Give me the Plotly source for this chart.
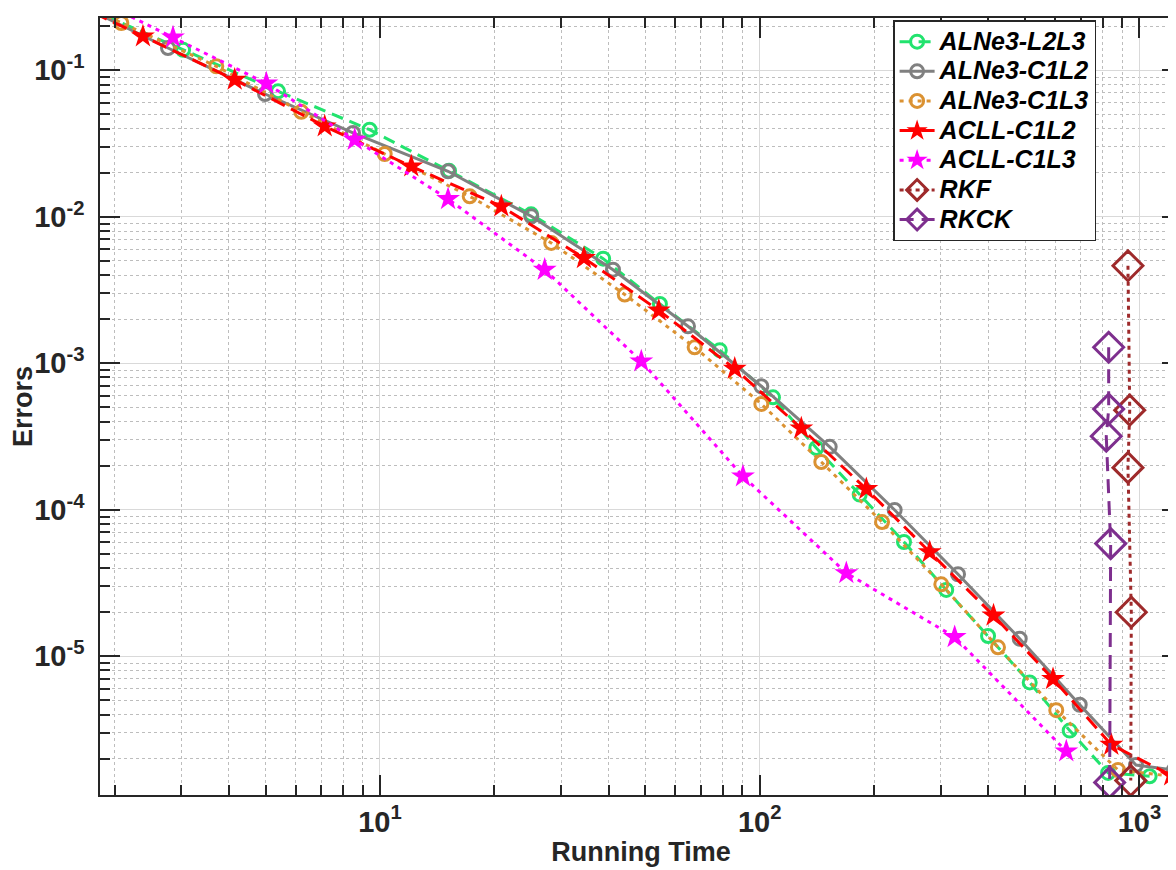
import plotly.graph_objects as go

# ---------------- data ----------------
l2l3_time = [1.70, 3.03, 5.39, 9.39, 15.2, 25.0, 38.7, 54.6, 78.5, 108.4, 141.0, 183.4,
             239.9, 309.9, 399.4, 514.2, 655.3, 827.0, 1064.0]
l2l3_err = [0.266, 0.138, 0.0719, 0.0393, 0.0206, 0.0104, 0.00518, 0.00254, 1.23e-3,
            5.86e-4, 2.64e-4, 1.27e-4, 6.03e-5, 2.84e-5, 1.376e-5, 6.63e-6, 3.11e-6,
            1.60e-6, 1.517e-6]

c1l2_time = [1.60, 2.765, 4.98, 8.49, 15.11, 25.03, 41.08, 64.74, 101.0, 152.9, 226.7,
             332.9, 484.0, 696.3, 979.5, 1233.0]
c1l2_err = [0.2836, 0.142, 0.0689, 0.03733, 0.02045, 0.01008, 0.004354, 0.001789, 6.97e-4,
            2.69e-4, 9.97e-5, 3.63e-5, 1.319e-5, 4.67e-6, 1.81e-6, 1.675e-6]

c1l3_time = [1.508, 2.083, 3.706, 6.204, 10.29, 17.23, 28.25, 44.11, 67.4, 101.0, 145.3,
             210.0, 300.8, 424.2, 604.0, 878.3, 1264.0]
c1l3_err = [0.3215, 0.2104, 0.1065, 0.05208, 0.02684, 0.0138, 0.00663, 0.00295, 0.001286,
            5.28e-4, 2.12e-4, 8.25e-5, 3.10e-5, 1.152e-5, 4.29e-6, 1.675e-6, 1.50e-6]

acll_c1l2_time = [1.38, 2.375, 4.143, 7.152, 12.09, 20.87, 34.45, 54.24, 85.95, 128.7,
                  190.9, 280.4, 412.9, 592.3, 843.4, 1213.0]
acll_c1l2_err = [0.333, 0.1707, 0.0863, 0.04147, 0.02212, 0.01179, 0.005233, 0.002293,
                 9.19e-4, 3.60e-4, 1.387e-4, 5.15e-5, 1.90e-5, 7.0e-6, 2.49e-6, 1.54e-6]

acll_c1l3_time = [1.651, 2.85, 5.02, 8.58, 15.11, 27.15, 48.77, 90.36, 169.1, 326.2, 641.9]
acll_c1l3_err = [0.337, 0.168, 0.0813, 0.0336, 0.01323, 0.004354, 0.001032, 1.693e-4,
                 3.70e-5, 1.354e-5, 2.246e-6]

rkf_time = [933.0, 943.0, 933.0, 952.0, 949.0]
rkf_err = [4.63e-3, 4.79e-4, 1.94e-4, 2.0e-5, 1.417e-6]

rkck_time = [830.0, 830.0, 818.0, 840.0, 835.0]
rkck_err = [1.286e-3, 4.87e-4, 3.18e-4, 5.88e-5, 1.378e-6]

x_major = [10, 100, 1000]
x_major_text = ["<b>10<sup>1</sup></b>", "<b>10<sup>2</sup></b>", "<b>10<sup>3</sup></b>"]
y_major = [1e-5, 1e-4, 1e-3, 1e-2, 1e-1]
y_major_text = ["<b>10<sup>-5</sup></b>", "<b>10<sup>-4</sup></b>", "<b>10<sup>-3</sup></b>",
                "<b>10<sup>-2</sup></b>", "<b>10<sup>-1</sup></b>"]

# ---------------- figure ----------------
fig = go.Figure()

def add(name, x, y, color, dash, symbol, size, filled):
    if filled:
        marker = dict(symbol=symbol, size=size, color=color, line=dict(width=0))
    else:
        marker = dict(symbol=symbol, size=size, color=color, line=dict(width=3, color=color))
    label = '<span style="font-size:25px">' + name + '</span>'
    fig.add_trace(go.Scatter(x=x, y=y, name=label, mode="lines+markers",
                             line=dict(color=color, width=3, dash=dash),
                             marker=marker))

add("ALNe3-L2L3", l2l3_time, l2l3_err, "#22E36E", "12px,7px", "circle-open", 13, False)
add("ALNe3-C1L2", c1l2_time, c1l2_err, "#808080", "solid", "circle-open", 13, False)
add("ALNe3-C1L3", c1l3_time, c1l3_err, "#DB9232", "4px,5px", "circle-open", 13, False)
add("ACLL-C1L2", acll_c1l2_time, acll_c1l2_err, "#FF0000", "15px,7px", "star", 18, True)
add("ACLL-C1L3", acll_c1l3_time, acll_c1l3_err, "#FF00FF", "4px,5px", "star", 18, True)
add("RKF", rkf_time, rkf_err, "#9E2A2B", "4px,4px", "diamond-open", 23, False)
add("RKCK", rkck_time, rkck_err, "#7E2F8E", "14px,8px", "diamond-open", 23, False)

def minor_vals(lo, hi):
    vals = []
    for e in range(lo, hi):
        for m in range(2, 10):
            vals.append(m * 10.0 ** e)
    return vals

axis_common = dict(
    type="log",
    showline=True, linecolor="#262626", linewidth=1.5, mirror="allticks",
    ticks="inside", ticklen=20, tickwidth=1.5, tickcolor="#262626",
    showgrid=True, gridcolor="#D9D9D9", gridwidth=1,
    zeroline=False,
    tickfont=dict(family="Liberation Sans", size=29, color="#262626"),
)

fig.update_xaxes(
    **axis_common,
    range=[0.2626, 3.1122],
    tickmode="array", tickvals=x_major, ticktext=x_major_text,
    ticklabelstandoff=0,
    minor=dict(tickmode="array", tickvals=minor_vals(0, 3), ticks="inside", ticklen=10,
               tickwidth=1.5, tickcolor="#262626", showgrid=True, gridcolor="#BDBDBD",
               griddash="dot", gridwidth=1),
    title=dict(text="<b>Running Time</b>",
               font=dict(family="Liberation Sans", size=27, color="#262626"),
               standoff=6),
)
fig.update_yaxes(
    **axis_common,
    range=[-5.9468, -0.643],
    tickmode="array", tickvals=y_major, ticktext=y_major_text,
    ticklabelstandoff=8,
    minor=dict(tickmode="array", tickvals=minor_vals(-6, 0), ticks="inside", ticklen=10,
               tickwidth=1.5, tickcolor="#262626", showgrid=True, gridcolor="#BDBDBD",
               griddash="dot", gridwidth=1),
    title=dict(text="<b>Errors</b>",
               font=dict(family="Liberation Sans", size=27, color="#262626"),
               standoff=2),
)

fig.update_layout(
    width=1176, height=870,
    margin=dict(l=92, r=2, t=10, b=83, autoexpand=False),
    paper_bgcolor="white", plot_bgcolor="white",
    legend=dict(x=0.733, y=0.997, xanchor="left", yanchor="top",
                bgcolor="white", bordercolor="#262626", borderwidth=1.5,
                font=dict(family="Liberation Sans", size=20.5, color="black",
                          weight="bold", style="italic"),
                itemwidth=35, tracegroupgap=0),
    showlegend=True,
)

fig.write_html("out.html")
